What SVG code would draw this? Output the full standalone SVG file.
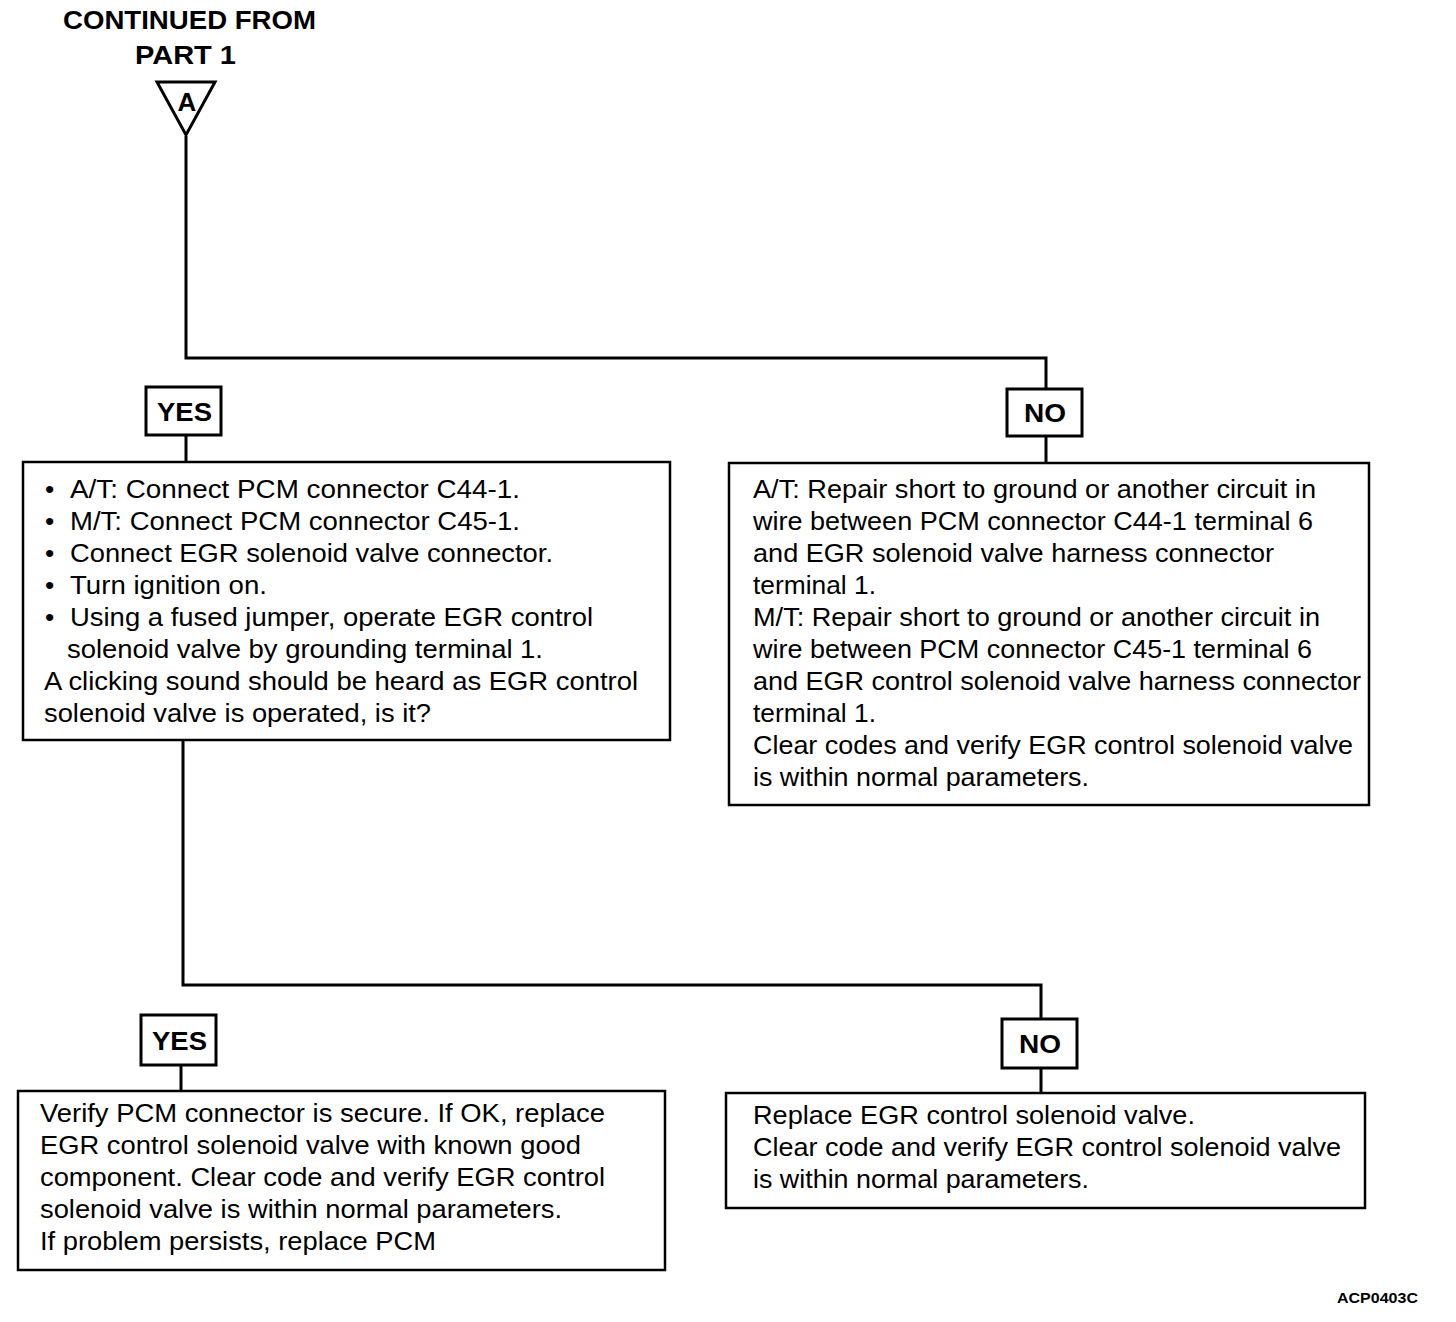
<svg xmlns="http://www.w3.org/2000/svg" width="1456" height="1322" viewBox="0 0 1456 1322">
<style>
.box{fill:#fff;stroke:#000;stroke-width:2.5}
.lbl{fill:#fff;stroke:#000;stroke-width:3}
.ln{fill:none;stroke:#000;stroke-width:3}
text{font-family:"Liberation Sans",Arial,sans-serif;fill:#000}
.t{font-size:26.5px}
.b{font-weight:bold;font-size:26px}
</style>
<rect width="1456" height="1322" fill="#fff"/>
<g id="connectors">
<polyline class="ln" points="186,136 186,358 1046,358 1046,389"/>
<line class="ln" x1="186" y1="435" x2="186" y2="462"/>
<line class="ln" x1="1046" y1="436" x2="1046" y2="463"/>
<polyline class="ln" points="183,740 183,985 1041,985 1041,1019"/>
<line class="ln" x1="181" y1="1065" x2="181" y2="1091"/>
<line class="ln" x1="1041" y1="1068" x2="1041" y2="1093"/>
</g>
<g id="header">
<text class="b" x="63" y="29" textLength="253" lengthAdjust="spacingAndGlyphs">CONTINUED FROM</text>
<text class="b" x="135" y="64" textLength="101" lengthAdjust="spacingAndGlyphs">PART  1</text>
</g>
<g id="connA">
<polygon points="157,82 215,82 186,135" fill="#fff" stroke="#000" stroke-width="3"/>
<text class="b" x="187" y="111" text-anchor="middle" font-size="25">A</text>
</g>
<g id="yes1">
<rect class="lbl" x="146" y="387" width="75" height="48"/>
<text class="b" x="157" y="421" textLength="55" lengthAdjust="spacingAndGlyphs">YES</text>
</g>
<g id="no1">
<rect class="lbl" x="1007" y="389" width="75" height="47"/>
<text class="b" x="1024" y="422" textLength="42" lengthAdjust="spacingAndGlyphs">NO</text>
</g>
<g id="box1">
<rect class="box" x="23" y="462" width="647" height="278"/>
<text class="t" x="45" y="498">•</text><text class="t" x="70" y="498" textLength="450" lengthAdjust="spacingAndGlyphs">A/T: Connect PCM connector C44-1.</text>
<text class="t" x="45" y="530">•</text><text class="t" x="70" y="530" textLength="450" lengthAdjust="spacingAndGlyphs">M/T: Connect PCM connector C45-1.</text>
<text class="t" x="45" y="562">•</text><text class="t" x="70" y="562" textLength="483" lengthAdjust="spacingAndGlyphs">Connect EGR solenoid valve connector.</text>
<text class="t" x="45" y="594">•</text><text class="t" x="70" y="594" textLength="197" lengthAdjust="spacingAndGlyphs">Turn ignition on.</text>
<text class="t" x="45" y="626">•</text><text class="t" x="70" y="626" textLength="523" lengthAdjust="spacingAndGlyphs">Using a fused jumper, operate EGR control</text>
<text class="t" x="67" y="658" textLength="476" lengthAdjust="spacingAndGlyphs">solenoid valve by grounding terminal 1.</text>
<text class="t" x="44" y="690" textLength="594" lengthAdjust="spacingAndGlyphs">A clicking sound should be heard as EGR control</text>
<text class="t" x="44" y="722" textLength="387" lengthAdjust="spacingAndGlyphs">solenoid valve is operated, is it?</text>
</g>
<g id="box2">
<rect class="box" x="729" y="463" width="640" height="342"/>
<text class="t" x="753" y="498" textLength="563" lengthAdjust="spacingAndGlyphs">A/T: Repair short to ground or another circuit in</text>
<text class="t" x="753" y="530" textLength="560" lengthAdjust="spacingAndGlyphs">wire between PCM connector C44-1 terminal 6</text>
<text class="t" x="753" y="562" textLength="521" lengthAdjust="spacingAndGlyphs">and EGR solenoid valve harness connector</text>
<text class="t" x="753" y="594" textLength="123" lengthAdjust="spacingAndGlyphs">terminal 1.</text>
<text class="t" x="753" y="626" textLength="567" lengthAdjust="spacingAndGlyphs">M/T: Repair short to ground or another circuit in</text>
<text class="t" x="753" y="658" textLength="559" lengthAdjust="spacingAndGlyphs">wire between PCM connector C45-1 terminal 6</text>
<text class="t" x="753" y="690" textLength="608" lengthAdjust="spacingAndGlyphs">and EGR control solenoid valve harness connector</text>
<text class="t" x="753" y="722" textLength="123" lengthAdjust="spacingAndGlyphs">terminal 1.</text>
<text class="t" x="753" y="754" textLength="600" lengthAdjust="spacingAndGlyphs">Clear codes and verify EGR control solenoid valve</text>
<text class="t" x="753" y="786" textLength="336" lengthAdjust="spacingAndGlyphs">is within normal parameters.</text>
</g>
<g id="yes2">
<rect class="lbl" x="141" y="1015" width="75" height="50"/>
<text class="b" x="152" y="1050" textLength="55" lengthAdjust="spacingAndGlyphs">YES</text>
</g>
<g id="no2">
<rect class="lbl" x="1002" y="1019" width="75" height="49"/>
<text class="b" x="1019" y="1053" textLength="42" lengthAdjust="spacingAndGlyphs">NO</text>
</g>
<g id="box3">
<rect class="box" x="18" y="1091" width="647" height="179"/>
<text class="t" x="40" y="1122" textLength="565" lengthAdjust="spacingAndGlyphs">Verify PCM connector is secure. If OK, replace</text>
<text class="t" x="40" y="1154" textLength="541" lengthAdjust="spacingAndGlyphs">EGR control solenoid valve with known good</text>
<text class="t" x="40" y="1186" textLength="565" lengthAdjust="spacingAndGlyphs">component. Clear code and verify EGR control</text>
<text class="t" x="40" y="1218" textLength="522" lengthAdjust="spacingAndGlyphs">solenoid valve is within normal parameters.</text>
<text class="t" x="40" y="1250" textLength="396" lengthAdjust="spacingAndGlyphs">If problem persists, replace PCM</text>
</g>
<g id="box4">
<rect class="box" x="726" y="1093" width="639" height="115"/>
<text class="t" x="753" y="1124" textLength="442" lengthAdjust="spacingAndGlyphs">Replace EGR control solenoid valve.</text>
<text class="t" x="753" y="1156" textLength="588" lengthAdjust="spacingAndGlyphs">Clear code and verify EGR control solenoid valve</text>
<text class="t" x="753" y="1188" textLength="336" lengthAdjust="spacingAndGlyphs">is within normal parameters.</text>
</g>
<text x="1337" y="1303" font-size="14" font-weight="bold" textLength="81" lengthAdjust="spacingAndGlyphs">ACP0403C</text>
</svg>
